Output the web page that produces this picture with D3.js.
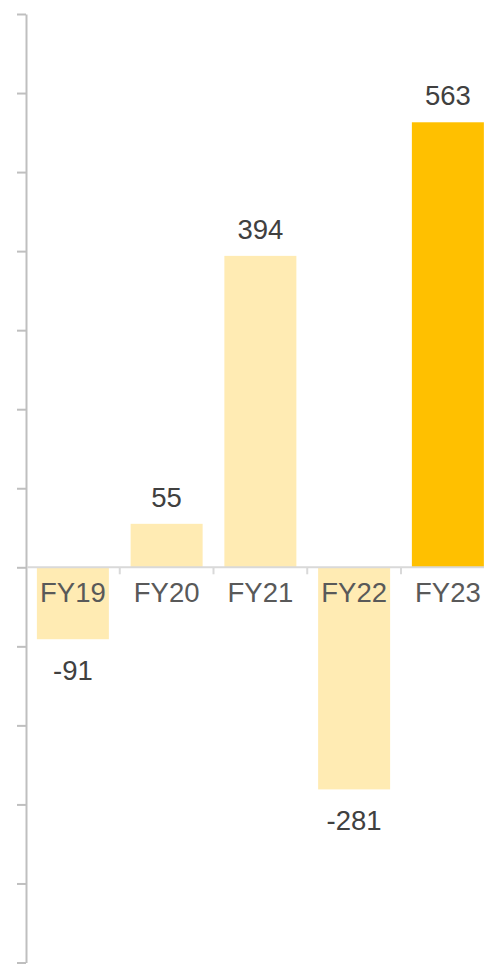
<!DOCTYPE html>
<html>
<head>
<meta charset="utf-8">
<script src="https://cdn.jsdelivr.net/npm/d3@7"></script>
<style>
  html, body { margin: 0; padding: 0; background: #ffffff; overflow: hidden; }
  svg { display: block; }
</style>
</head>
<body>
<div id="chart"></div>
<script>
// Yearly values, in display order
const categories = ["FY19", "FY20", "FY21", "FY22", "FY23"];
const values = [-91, 55, 394, -281, 563];
const highlighted = ["FY23"];
const yTicks = [-500, -400, -300, -200, -100, 0, 100, 200, 300, 400, 500, 600, 700];

const width = 484, height = 971;
const font = "'Liberation Sans', Arial, Helvetica, sans-serif";

const svg = d3.select("#chart").append("svg")
  .attr("width", width)
  .attr("height", height);

const y = d3.scaleLinear().domain([-500, 700]).range([962.5, 14]);
const x = d3.scaleBand().domain(categories).range([26, 494.75]).padding(0);
const barW = x.bandwidth() * 0.768;
const y0 = y(0);

// Bars
svg.append("g").selectAll("rect")
  .data(categories)
  .join("rect")
  .attr("x", (d) => x(d) + (x.bandwidth() - barW) / 2)
  .attr("width", barW)
  .attr("y", (d, i) => Math.min(y(values[i]), y0))
  .attr("height", (d, i) => Math.abs(y(values[i]) - y0))
  .attr("fill", (d) => highlighted.includes(d) ? "#FFC000" : "#FFEBB3");

// Vertical axis: line with unlabelled ticks
const yAxis = svg.append("g")
  .attr("transform", "translate(26,0)")
  .call(d3.axisLeft(y).tickValues(yTicks).tickFormat("").tickSize(9).tickSizeOuter(0));
yAxis.select(".domain").attr("stroke", "#BFBFBF").attr("stroke-width", 2);
yAxis.selectAll(".tick line").attr("stroke", "#BFBFBF").attr("stroke-width", 2);

// Category axis along zero
svg.append("line")
  .attr("x1", 27).attr("x2", width)
  .attr("y1", y0).attr("y2", y0)
  .attr("stroke", "#D9D9D9").attr("stroke-width", 2);

svg.append("g").selectAll("line")
  .data(categories.slice(1))
  .join("line")
  .attr("x1", (d) => x(d)).attr("x2", (d) => x(d))
  .attr("y1", y0).attr("y2", y0 + 7)
  .attr("stroke", "#D9D9D9").attr("stroke-width", 2);

svg.append("g").selectAll("text")
  .data(categories)
  .join("text")
  .attr("x", (d) => x(d) + x.bandwidth() / 2)
  .attr("y", y0 + 34.5)
  .attr("text-anchor", "middle")
  .attr("font-family", font)
  .attr("font-size", 27.5)
  .attr("fill", "#595959")
  .text((d) => d);

// Value labels above positive bars, below negative ones
svg.append("g").selectAll("text")
  .data(categories)
  .join("text")
  .attr("x", (d) => x(d) + x.bandwidth() / 2)
  .attr("y", (d, i) => values[i] >= 0 ? y(values[i]) - 17 : y(values[i]) + 41)
  .attr("text-anchor", "middle")
  .attr("font-family", font)
  .attr("font-size", 27.5)
  .attr("fill", "#404040")
  .text((d, i) => values[i]);
</script>
</body>
</html>
